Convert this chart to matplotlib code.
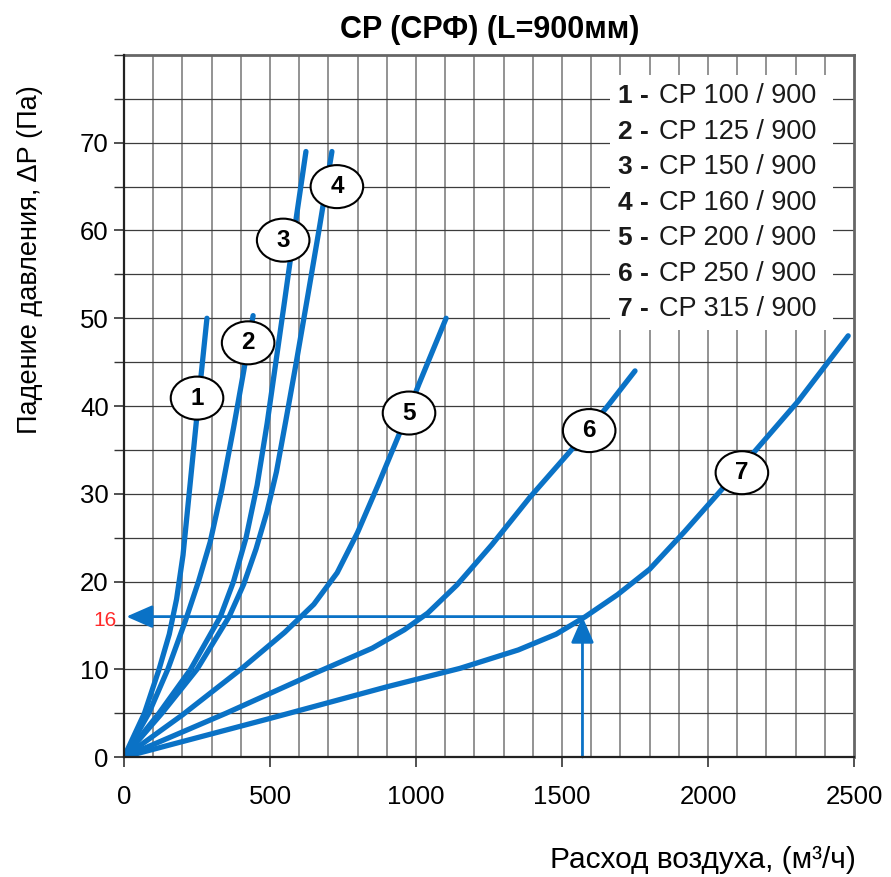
import numpy as np
import matplotlib
matplotlib.use("Agg")
import matplotlib.pyplot as plt
from matplotlib.patches import Ellipse, Rectangle
from matplotlib.ticker import MultipleLocator

plt.rcParams['font.family'] = ['Liberation Sans', 'DejaVu Sans']

# curves: flow (m3/h) vs pressure drop (Pa)
c1_x = [0, 70, 120, 155, 180, 202, 226, 250, 284]
c1_y = [0, 5, 10, 14, 18, 23, 31, 39, 50]
c2_x = [0, 85, 150, 210, 255, 295, 335, 375, 410, 442]
c2_y = [0, 5, 10, 15.5, 20, 24.5, 30.5, 37.5, 44, 50.3]
c3_x = [0, 120, 228, 330, 375, 418, 456, 490, 520, 550, 590, 623]
c3_y = [0, 5, 10, 16, 20, 25, 31, 38, 45, 52, 61.5, 69]
c4_x = [0, 130, 250, 360, 410, 452, 490, 522, 555, 590, 630, 670, 712]
c4_y = [0, 5, 10, 16, 19.7, 23.7, 28, 32.5, 38.5, 45, 52.7, 60.5, 69]
c5_x = [0, 200, 400, 550, 650, 730, 800, 870, 940, 1010, 1103]
c5_y = [0, 4.8, 10, 14.2, 17.4, 21, 25.6, 31, 36.6, 42.5, 50]
c6_x = [0, 350, 650, 850, 960, 1040, 1140, 1260, 1390, 1527, 1654, 1750]
c6_y = [0, 5, 9.5, 12.4, 14.5, 16.4, 19.6, 24.2, 29.6, 34.8, 39.9, 44]
c7_x = [0, 500, 900, 1150, 1350, 1480, 1580, 1690, 1800, 1920, 2050, 2180, 2310, 2480]
c7_y = [0, 4.4, 8, 10.1, 12.2, 14, 16, 18.5, 21.4, 25.7, 30.6, 35.6, 40.6, 48]

curves_x = [c1_x, c2_x, c3_x, c4_x, c5_x, c6_x, c7_x]
curves_y = [c1_y, c2_y, c3_y, c4_y, c5_y, c6_y, c7_y]

# circled numbers on the curves
label_x = [250, 425, 545, 729, 976, 1593, 2116]
label_y = [40.9, 47.2, 58.9, 65.0, 39.2, 37.2, 32.4]

legend_num = ['1', '2', '3', '4', '5', '6', '7']
legend_name = ['CP 100 / 900', 'CP 125 / 900', 'CP 150 / 900', 'CP 160 / 900',
               'CP 200 / 900', 'CP 250 / 900', 'CP 315 / 900']

# working point example
work_x = 1570
work_y = 16

blue = '#0a72c6'

fig = plt.figure(figsize=(8.91, 8.77), dpi=100)
ax = fig.add_axes([0.1392, 0.1368, 0.8193, 0.8005])
ax.set_xlim(0, 2500)
ax.set_ylim(0, 80)

# grid
for gx in range(100, 2500, 100):
    ax.axvline(gx, color='#8a8a8a', lw=1.3, zorder=1)
for gy in range(5, 80, 5):
    ax.axhline(gy, color='#3c3c3c', lw=0.9, zorder=1)

# legend box hides grid
ax.add_patch(Rectangle((1664, 48.7), 764, 29.0, facecolor='white',
                       edgecolor='none', zorder=2))
for i in range(7):
    yy = 75.3 - i * 4.05
    ax.text(1690, yy, legend_num[i] + ' -', fontsize=19, fontweight='bold',
            va='center', ha='left', color='#1a1a1a', zorder=3)
    ax.text(1833, yy, legend_name[i], fontsize=19.5, va='center', ha='left',
            color='#1a1a1a', zorder=3)

for cx, cy in zip(curves_x, curves_y):
    ax.plot(cx, cy, color=blue, lw=3.8, solid_capstyle='round',
            solid_joinstyle='round', zorder=4)

# arrows for the example
ax.annotate('', xy=(8, work_y), xytext=(work_x, work_y),
            arrowprops=dict(arrowstyle='-|>,head_length=0.8,head_width=0.35',
                            color=blue, lw=2, shrinkA=0, shrinkB=0,
                            mutation_scale=20), zorder=5)
ax.annotate('', xy=(work_x, work_y), xytext=(work_x, 0),
            arrowprops=dict(arrowstyle='-|>,head_length=0.8,head_width=0.35',
                            color=blue, lw=2, shrinkA=0, shrinkB=0,
                            mutation_scale=20), zorder=5)
ax.text(-0.01, work_y - 0.4, '16', transform=ax.get_yaxis_transform(),
        color='#ff2a2a', fontsize=15, ha='right', va='center')

for i in range(7):
    ax.add_patch(Ellipse((label_x[i], label_y[i]), 180, 4.9, facecolor='white',
                         edgecolor='black', lw=1.5, zorder=6))
    ax.text(label_x[i], label_y[i], str(i + 1), fontsize=17.5, fontweight='bold',
            ha='center', va='center', zorder=7)

ax.xaxis.set_major_locator(MultipleLocator(500))
ax.set_yticks(range(0, 80, 10))
ax.yaxis.set_minor_locator(MultipleLocator(5))
ax.tick_params(axis='both', which='major', labelsize=18.5, length=7, width=1.2,
               direction='out', color='#333333')
ax.tick_params(axis='x', pad=13)
ax.tick_params(axis='y', pad=4)
ax.tick_params(axis='y', which='minor', length=7, width=1.0, color='#333333')

for s in ['left', 'bottom']:
    ax.spines[s].set_color('#222222')
    ax.spines[s].set_linewidth(1.6)
for s in ['top', 'right']:
    ax.spines[s].set_color('#666666')
    ax.spines[s].set_linewidth(2.0)
ax.spines['left'].set_zorder(8)
ax.spines['bottom'].set_zorder(8)

fig.text(490 / 891, 1 - 30 / 877, 'CP (СРФ) (L=900мм)', fontsize=22,
         fontweight='bold', ha='center', va='center')
fig.text(30 / 891, 1 - 260 / 877, 'Падение давления, ΔР (Па)', fontsize=19.5,
         rotation=90, ha='center', va='center')
fig.text(856 / 891, 1 - 860 / 877, 'Расход воздуха, (м³/ч)', fontsize=21.5,
         ha='right', va='center')

fig.savefig('out.png', dpi=100)
